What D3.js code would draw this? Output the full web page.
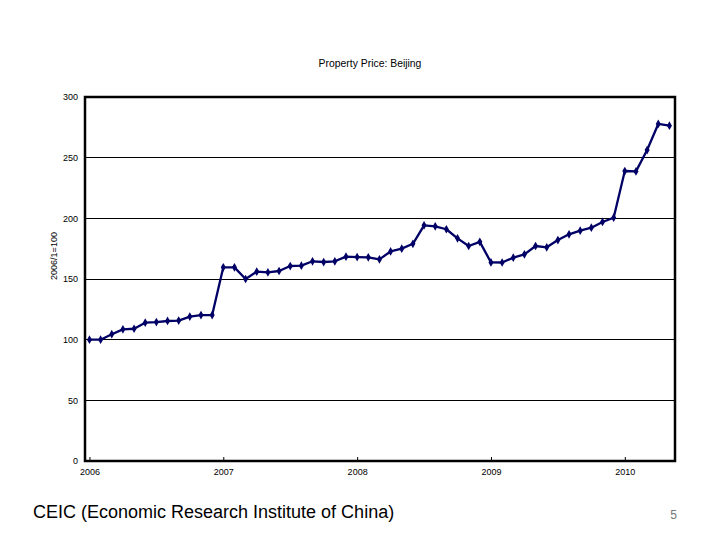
<!DOCTYPE html>
<html><head><meta charset="utf-8">
<script src="https://cdn.jsdelivr.net/npm/d3@7"></script>
<style>body{margin:0;background:#fff}svg{display:block}</style>
</head><body>
<script>
const title = "Property Price: Beijing";
const yLabel = "2006/1=100";
const footer = "CEIC (Economic Research Institute of China)";
const pageNo = "5";
const startYear = 2006;
const values = [
  100, 100, 104.5, 108.5, 109, 114, 114.5, 115.4, 115.7, 119, 120.3, 120.3,
  159.6, 159.6, 150, 156, 155.5, 156.6, 160.7, 161, 164.6, 164, 164.6, 168.4,
  168.1, 167.9, 166.2, 172.7, 175, 179, 194.2, 193.4, 191, 183.5, 177.2, 180.6,
  163.7, 163.6, 167.6, 170.3, 177.2, 176.1, 182.1, 186.8, 189.8, 192.3, 197, 200.5,
  239, 238.7, 256.3, 277.8, 276.4
];
const yTicks = [0, 50, 100, 150, 200, 250, 300];
const xTickLabels = ["2006", "2007", "2008", "2009", "2010"];

const W = 720, H = 540;
const L = 85, R = 675, T = 97, B = 461;
const svg = d3.select("body").append("svg").attr("width", W).attr("height", H);
const font = "'Liberation Sans', Arial, sans-serif";

const x = d3.scaleLinear().domain([-0.4, 52.5]).range([L, R]);
const y = d3.scaleLinear().domain([0, 300]).range([B, T]);

// gridlines
svg.append("g").selectAll("line").data(yTicks.filter(d => d > 0 && d < 300)).join("line")
  .attr("x1", L).attr("x2", R).attr("y1", d => y(d)).attr("y2", d => y(d))
  .attr("stroke", "#000").attr("stroke-width", 1).attr("shape-rendering", "crispEdges");

// y axis labels
const yAxis = d3.axisLeft(y).tickValues(yTicks).tickSize(0).tickPadding(7);
const gy = svg.append("g").attr("transform", `translate(${L},0)`).call(yAxis);
gy.select(".domain").remove();
gy.selectAll("text").attr("font-family", font).attr("font-size", 9).attr("fill", "#000");

// x axis
const xAxis = d3.axisBottom(x).tickValues(xTickLabels.map((d, i) => i * 12))
  .tickFormat((d, i) => xTickLabels[i]).tickSize(-4).tickPadding(8);
const gx = svg.append("g").attr("transform", `translate(0,${B})`).call(xAxis);
gx.select(".domain").remove();
gx.selectAll("line").attr("stroke", "#000");
gx.selectAll("text").attr("font-family", font).attr("font-size", 9).attr("fill", "#000");

// frame
svg.append("rect").attr("x", L).attr("y", T).attr("width", R - L).attr("height", B - T)
  .attr("fill", "none").attr("stroke", "#000").attr("stroke-width", 2.5);

// line
const line = d3.line().x((d, i) => x(i)).y(d => y(d));
svg.append("path").datum(values).attr("d", line)
  .attr("fill", "none").attr("stroke", "#000066").attr("stroke-width", 2.3).attr("stroke-linejoin", "round");
const sym = d3.symbol().type(d3.symbolDiamond).size(22);
svg.append("g").selectAll("path").data(values).join("path")
  .attr("transform", (d, i) => `translate(${x(i)},${y(d)})`)
  .attr("d", sym).attr("fill", "#000066");

// title
svg.append("text").attr("x", 370).attr("y", 67).attr("text-anchor", "middle")
  .attr("font-family", font).attr("font-size", 10.4).text(title);

// y label
svg.append("text").attr("transform", "translate(57,256) rotate(-90)").attr("text-anchor", "middle")
  .attr("font-family", font).attr("font-size", 9).text(yLabel);

// footer
svg.append("text").attr("x", 33).attr("y", 518).attr("font-family", font).attr("font-size", 18).text(footer);
svg.append("text").attr("x", 677).attr("y", 519).attr("text-anchor", "end")
  .attr("font-family", font).attr("font-size", 12).attr("fill", "#777").text(pageNo);
</script>
</body></html>
